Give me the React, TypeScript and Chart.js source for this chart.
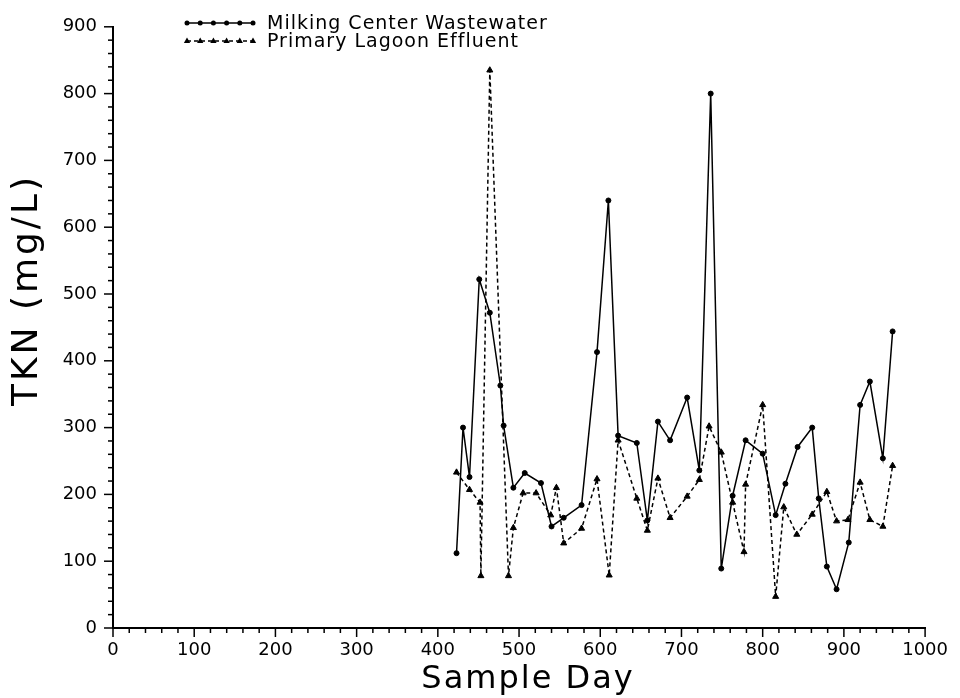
import React, { useEffect, useRef } from 'react';
import { Chart, registerables } from 'chart.js';

Chart.register(...registerables);

// ---------- data ----------
const xMin = 0;
const xMax = 1000;
const yMin = 0;
const yMax = 900;
const majorStep = 100;
const minorStep = 20;

const seriesNames = ['Milking Center Wastewater', 'Primary Lagoon Effluent'];
const xTitle = 'Sample Day';
const yTitle = 'TKN (mg/L)';

const milkingDays = [423, 431, 439, 451, 464, 477, 481, 493, 507, 527, 540, 555, 577, 596, 610, 622, 645, 658, 671, 686, 707, 722, 736, 749, 763, 779, 800, 816, 828, 843, 861, 869, 879, 891, 906, 920, 932, 948, 960];
const milkingTKN = [112, 300, 226, 522, 472, 363, 303, 210, 232, 217, 152, 165, 184, 413, 640, 288, 277, 161, 309, 281, 345, 236, 800, 89, 198, 281, 261, 169, 216, 271, 300, 194, 92, 58, 128, 334, 369, 254, 444];

const lagoonDays = [423, 439, 452, 453, 464, 487, 493, 505, 521, 539, 546, 555, 577, 596, 611, 622, 645, 658, 671, 686, 707, 722, 734, 749, 763, 777, 779, 800, 816, 826, 842, 861, 879, 891, 905, 920, 932, 948, 960];
const lagoonTKN = [233, 207, 188, 78, 835, 78, 150, 202, 202, 169, 210, 127, 149, 223, 79, 281, 194, 146, 224, 165, 197, 222, 302, 263, 188, 114, 215, 334, 47, 181, 140, 170, 204, 160, 162, 218, 162, 152, 243];

const FONT = '"DejaVu Sans", "Liberation Sans", sans-serif';

function drawTriangle(ctx: CanvasRenderingContext2D, x: number, y: number, r: number) {
  ctx.beginPath();
  ctx.moveTo(x, y - r);
  ctx.lineTo(x + r * 0.9, y + r * 0.6);
  ctx.lineTo(x - r * 0.9, y + r * 0.6);
  ctx.closePath();
  ctx.fill();
}

const decorPlugin = {
  id: 'decor',
  afterDraw(chart: any) {
    const ctx: CanvasRenderingContext2D = chart.ctx;
    const xs = chart.scales.x;
    const ys = chart.scales.y;
    ctx.save();
    ctx.strokeStyle = '#000';
    ctx.fillStyle = '#000';
    ctx.lineWidth = 1.5;
    // ticks on x axis (outward, downward)
    for (let v = xMin; v <= xMax; v += minorStep) {
      const px = xs.getPixelForValue(v);
      const len = v % majorStep === 0 ? 9 : 5;
      ctx.beginPath();
      ctx.moveTo(px, ys.bottom);
      ctx.lineTo(px, ys.bottom + len);
      ctx.stroke();
    }
    // ticks on y axis (outward, leftward)
    for (let v = yMin; v <= yMax; v += minorStep) {
      const py = ys.getPixelForValue(v);
      const len = v % majorStep === 0 ? 9 : 5;
      ctx.beginPath();
      ctx.moveTo(xs.left, py);
      ctx.lineTo(xs.left - len, py);
      ctx.stroke();
    }

    // axis titles
    ctx.textAlign = 'center';
    ctx.textBaseline = 'middle';
    (ctx as any).letterSpacing = '2px';
    ctx.font = `32px ${FONT}`;
    ctx.fillText(xTitle, 528, 680);
    ctx.save();
    ctx.translate(28, 290);
    ctx.rotate(-Math.PI / 2);
    (ctx as any).letterSpacing = '3px';
    ctx.font = `36px ${FONT}`;
    ctx.fillText(yTitle, 0, 0);
    ctx.restore();

    // legend
    const lx0 = 187;
    const lx1 = 253;
    const rows = [23, 41];
    ctx.textAlign = 'left';
    (ctx as any).letterSpacing = '1px';
    ctx.font = `19px ${FONT}`;
    rows.forEach((ry, i) => {
      ctx.lineWidth = 1.5;
      ctx.setLineDash(i === 1 ? [4, 3] : []);
      ctx.beginPath();
      ctx.moveTo(lx0, ry);
      ctx.lineTo(lx1, ry);
      ctx.stroke();
      ctx.setLineDash([]);
      for (let k = 0; k < 6; k++) {
        const mx = lx0 + ((lx1 - lx0) * k) / 5;
        if (i === 0) {
          ctx.beginPath();
          ctx.arc(mx, ry, 2.5, 0, Math.PI * 2);
          ctx.fill();
        } else {
          drawTriangle(ctx, mx, ry, 3.5);
        }
      }
      ctx.fillText(seriesNames[i], 267, ry + 1);
    });
    ctx.restore();
  },
};

export default function App() {
  const ref = useRef<HTMLCanvasElement | null>(null);
  useEffect(() => {
    if (!ref.current) return;
    const chart = new Chart(ref.current, {
      type: 'scatter',
      data: {
        datasets: [
          {
            label: seriesNames[0],
            data: milkingDays.map((d, i) => ({ x: d, y: milkingTKN[i] })),
            showLine: true,
            borderColor: '#000',
            borderWidth: 1.5,
            pointStyle: 'circle',
            pointRadius: 2.5,
            pointBackgroundColor: '#000',
            pointBorderColor: '#000',
            pointBorderWidth: 1,
          },
          {
            label: seriesNames[1],
            data: lagoonDays.map((d, i) => ({ x: d, y: lagoonTKN[i] })),
            showLine: true,
            borderColor: '#000',
            borderWidth: 1.5,
            borderDash: [4, 3],
            pointStyle: 'triangle',
            pointRadius: 3.5,
            pointBackgroundColor: '#000',
            pointBorderColor: '#000',
            pointBorderWidth: 1,
          },
        ],
      },
      options: {
        responsive: false,
        animation: false,
        layout: { padding: { left: 0, top: 25, right: 32, bottom: 0 } },
        plugins: {
          legend: { display: false },
          tooltip: { enabled: false },
          title: { display: false },
        },
        scales: {
          x: {
            type: 'linear',
            min: xMin,
            max: xMax,
            afterFit: (s: any) => {
              s.height = 70;
            },
            ticks: {
              stepSize: majorStep,
              color: '#000',
              font: { family: FONT, size: 18 },
              padding: 12,
              maxRotation: 0,
              callback: (v: any) => String(v),
            },
            grid: { display: false, drawTicks: false },
            border: { display: true, color: '#000', width: 2 },
          },
          y: {
            type: 'linear',
            min: yMin,
            max: yMax,
            afterFit: (s: any) => {
              s.width = 113;
            },
            ticks: {
              stepSize: majorStep,
              color: '#000',
              font: { family: FONT, size: 18 },
              padding: 16,
              callback: (v: any) => String(v),
            },
            grid: { display: false, drawTicks: false },
            border: { display: true, color: '#000', width: 2 },
          },
        },
      },
      plugins: [decorPlugin],
    });
    return () => chart.destroy();
  }, []);

  return (
    <div style={{ position: 'absolute', left: 0, top: 0, width: 960, height: 698, background: '#fff' }}>
      <canvas ref={ref} width={960} height={698} style={{ display: 'block' }} />
    </div>
  );
}
